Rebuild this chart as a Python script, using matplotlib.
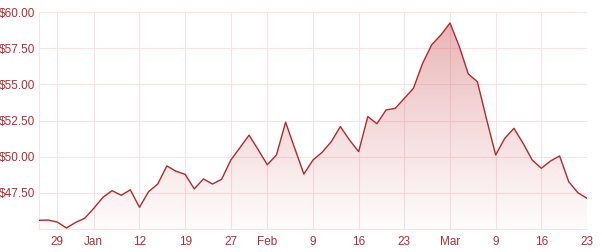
import numpy as np
import matplotlib
matplotlib.use('Agg')
import matplotlib.pyplot as plt
from matplotlib.colors import LinearSegmentedColormap

# closing prices, one per trading day (Dec 23 .. Mar 23)
prices = [45.60, 45.62, 45.48, 45.07, 45.45, 45.74, 46.43, 47.19, 47.65, 47.33,
          47.71, 46.50, 47.58, 48.11, 49.36, 48.99, 48.78, 47.77, 48.46, 48.11,
          48.44, 49.77, 50.62, 51.49, 50.48, 49.44, 50.12, 52.38, 50.58, 48.80,
          49.77, 50.30, 51.04, 52.08, 51.15, 50.35, 52.77, 52.28, 53.23, 53.34,
          54.03, 54.73, 56.45, 57.74, 58.41, 59.24, 57.65, 55.72, 55.18, 52.60,
          50.12, 51.27, 51.96, 50.93, 49.77, 49.20, 49.70, 50.05, 48.27, 47.51,
          47.12]
tick_idx = [2, 6, 11, 16, 21, 25, 30, 35, 40, 45, 50, 55, 60]
tick_labels = ['29', 'Jan', '12', '19', '27', 'Feb', '9', '16', '23', 'Mar', '9', '16', '23']
y_ticks = [47.5, 50.0, 52.5, 55.0, 57.5, 60.0]

line_col = '#ad2a2d'
text_col = '#a63034'
grid_col = '#f7e3e3'

plt.rcParams['font.family'] = ['Liberation Sans', 'DejaVu Sans']

fig = plt.figure(figsize=(6.02, 2.52), dpi=100)
ax = fig.add_axes([39/602, 23/252, 548/602, 217/252])

x = np.arange(len(prices))
y = np.array(prices)
ymin, ymax = 45.0, 60.0

# gradient fill under the line
fill = ax.fill_between(x, y, ymin, color='none', lw=0)
cmap = LinearSegmentedColormap.from_list('fade', [(0.85, 0.40, 0.42, 0.02), (0.80, 0.30, 0.32, 0.42)])
grad = np.linspace(0, 1, 256).reshape(-1, 1)
img = ax.imshow(grad, cmap=cmap, aspect='auto', origin='lower',
                extent=[x[0], x[-1], ymin, y.max()], zorder=1)
img.set_clip_path(fill.get_paths()[0], transform=ax.transData)

ax.plot(x, y, color=line_col, lw=1.0, zorder=3)

ax.set_xlim(x[0], x[-1])
ax.set_ylim(ymin, ymax)
ax.set_xticks(tick_idx)
ax.set_xticklabels(tick_labels)
ax.set_yticks(y_ticks)
ax.set_yticklabels(['$%.2f' % v for v in y_ticks])
ax.tick_params(length=0, labelsize=8.5, colors=text_col, pad=5)
ax.tick_params(axis='y', pad=3)
ax.grid(True, color=grid_col, lw=0.8, zorder=0)
ax.set_axisbelow(True)
for s in ['top', 'right']:
    ax.spines[s].set_visible(False)
for s in ['left', 'bottom']:
    ax.spines[s].set_color(grid_col)
    ax.spines[s].set_linewidth(0.8)

fig.savefig('out.png', dpi=100)
